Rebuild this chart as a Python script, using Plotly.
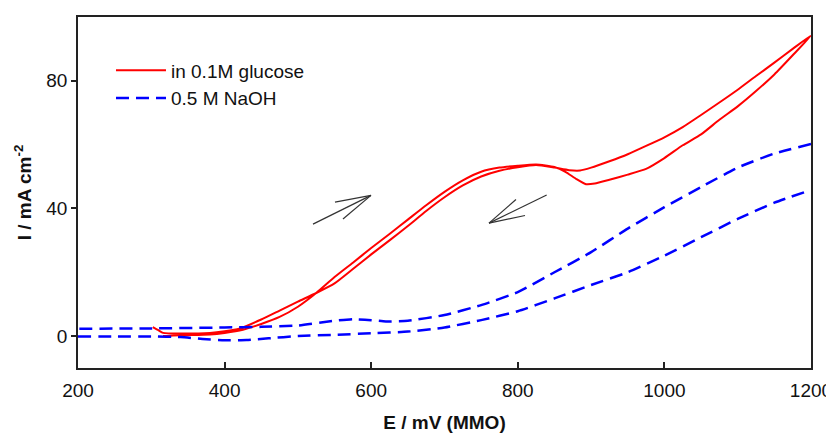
import plotly.graph_objects as go

# Glucose CV (forward then reverse scan)
glu_E = [302, 310, 316, 340, 380, 400, 420, 450, 475, 500, 525, 550, 575, 600, 625, 650, 675, 700, 725, 750, 775, 800, 825, 850, 870, 885, 900, 925, 950, 975, 1000, 1025, 1050, 1075, 1100, 1125, 1150, 1175, 1200,
         1175, 1150, 1125, 1100, 1075, 1050, 1025, 1000, 975, 950, 925, 905, 893, 880, 865, 850, 825, 800, 775, 750, 725, 700, 675, 650, 625, 600, 575, 550, 525, 500, 475, 450, 425, 400, 380, 350, 330, 316]
glu_I = [2.8, 1.8, 1.0, 0.8, 1.0, 1.5, 2.3, 5.2, 8.0, 10.8, 13.5, 16.5, 21.0, 25.6, 30.0, 34.5, 39.2, 43.5, 47.2, 50.0, 51.8, 52.9, 53.6, 52.8, 52.0, 51.9, 52.8, 54.8, 57.0, 59.6, 62.3, 65.5, 69.3, 73.2, 77.2, 81.5, 85.7, 90.0, 94.2,
         88.0, 82.0, 76.8, 72.0, 67.8, 63.2, 59.8, 55.8, 52.4, 50.6, 49.0, 47.8, 47.6, 49.2, 51.5, 53.0, 53.8, 53.4, 52.8, 51.5, 48.8, 45.2, 41.0, 36.5, 32.0, 27.6, 23.0, 18.5, 13.5, 9.2, 6.0, 3.8, 2.0, 1.0, 0.5, 0.3, 0.2, 0.0]

# NaOH blank CV: forward scan and reverse scan
naoh_fwd_E = [200, 250, 300, 340, 370, 400, 430, 460, 500, 550, 600, 650, 700, 750, 800, 850, 900, 950, 1000, 1050, 1100, 1150, 1200]
naoh_fwd_I = [-0.1, -0.1, -0.1, -0.3, -0.9, -1.3, -1.2, -0.7, 0.0, 0.4, 0.9, 1.4, 2.7, 5.0, 7.8, 11.8, 16.0, 20.0, 25.2, 31.0, 36.7, 41.8, 45.8]
naoh_rev_E = [1200, 1150, 1100, 1050, 1000, 950, 900, 850, 800, 750, 700, 650, 620, 600, 575, 550, 500, 450, 400, 300, 200]
naoh_rev_I = [60.2, 57.2, 52.8, 46.7, 40.4, 33.7, 26.3, 20.0, 13.8, 9.7, 6.6, 4.8, 4.6, 5.0, 5.3, 4.8, 3.3, 2.9, 2.7, 2.4, 2.3]

# Scan direction arrows: [tail, head, barb1, barb2] in data units
arrow1_E = [520.6, 599.7, 550.6, 561.5]
arrow1_I = [35.1, 44.1, 42.0, 36.7]
arrow2_E = [839.4, 760.7, 797.5, 809.8]
arrow2_I = [44.2, 35.4, 42.8, 37.8]

x_ticks = [200, 400, 600, 800, 1000, 1200]
y_ticks = [0, 40, 80]

FONT = "Liberation Sans, Arial, sans-serif"

naoh_E = naoh_fwd_E + [None] + naoh_rev_E
naoh_I = naoh_fwd_I + [None] + naoh_rev_I

fig = go.Figure()
fig.add_trace(go.Scatter(x=glu_E, y=glu_I, mode="lines", name="in 0.1M glucose",
                         line=dict(color="#ff0000", width=2, shape="spline", smoothing=0.5)))
fig.add_trace(go.Scatter(x=naoh_E, y=naoh_I, mode="lines", name="0.5 M NaOH", connectgaps=False,
                         line=dict(color="#0000ff", width=2.5, dash="13px,7px", shape="spline", smoothing=0.5)))

shapes = []
for ae, ai in ((arrow1_E, arrow1_I), (arrow2_E, arrow2_I)):
    for k in (0, 2, 3):
        shapes.append(dict(type="line", xref="x", yref="y", x0=ae[k], y0=ai[k], x1=ae[1], y1=ai[1],
                           line=dict(color="#333333", width=1.2)))

fig.update_layout(
    width=834, height=435,
    margin=dict(l=70, r=31, t=7, b=75),
    paper_bgcolor="white", plot_bgcolor="white",
    font=dict(family=FONT, size=19, color="#111111"),
    shapes=shapes,
    showlegend=True,
    legend=dict(x=0.045, y=0.902, xanchor="left", yanchor="top", bgcolor="rgba(0,0,0,0)",
                font=dict(size=19), tracegroupgap=0, itemwidth=50),
    xaxis=dict(range=[200, 1200], tickvals=x_ticks, ticks="inside", ticklen=6, tickwidth=1.5,
               tickcolor="#222222", showline=True, linecolor="#222222", linewidth=1.5, mirror=True,
               showgrid=False, zeroline=False, ticklabelstandoff=4,
               title=dict(text="<b>E / mV (MMO)</b>", font=dict(size=19), standoff=16)),
    yaxis=dict(range=[-10, 100], tickvals=y_ticks, ticks="outside", ticklen=5, tickwidth=1.5,
               tickcolor="#222222", showline=True, linecolor="#222222", linewidth=1.5, mirror=True,
               showgrid=False, zeroline=False,
               title=dict(text="<b>I / mA cm<sup>-2</sup></b>", font=dict(size=19), standoff=10)),
)

fig.write_html("out.html")
